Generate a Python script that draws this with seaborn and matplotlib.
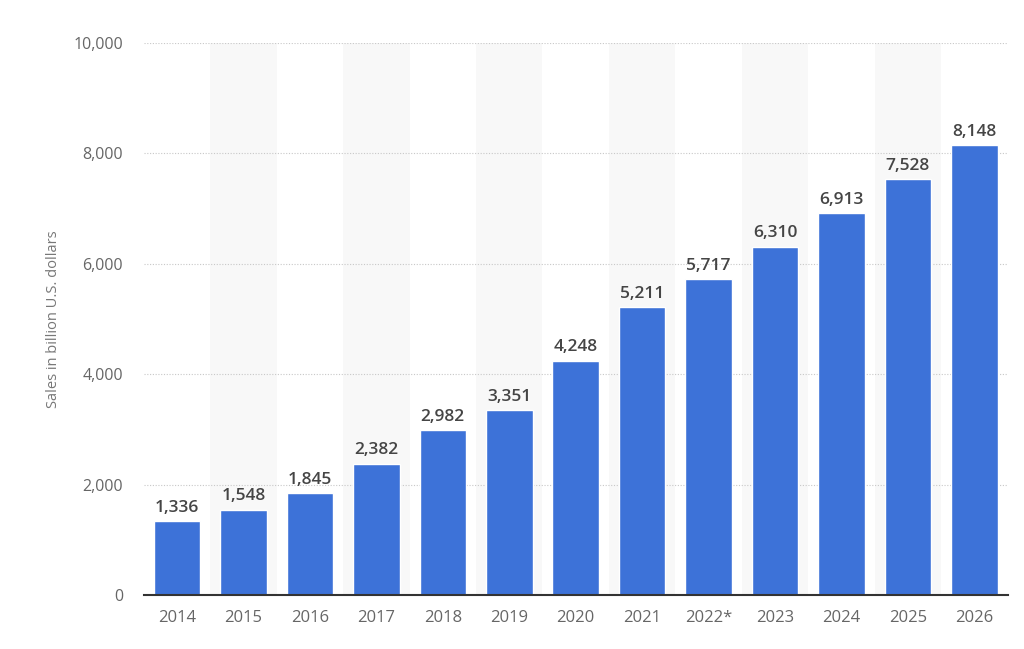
import matplotlib
matplotlib.use("Agg")
import matplotlib.pyplot as plt
import seaborn as sns
import pandas as pd
from matplotlib.ticker import FuncFormatter

years = ["2014", "2015", "2016", "2017", "2018", "2019", "2020", "2021", "2022*", "2023", "2024", "2025", "2026"]
sales = [1336, 1548, 1845, 2382, 2982, 3351, 4248, 5211, 5717, 6310, 6913, 7528, 8148]
y_ticks = [0, 2000, 4000, 6000, 8000, 10000]

sns.set_theme(style="white")
plt.rcParams['font.family'] = ['Open Sans', 'DejaVu Sans']

df = pd.DataFrame({"year": years, "sales": sales})

fig = plt.figure(figsize=(10.24, 6.49), dpi=100)
ax = fig.add_axes([0.1404, 0.083, 0.8436, 0.851])

for i in range(len(years)):
    if i % 2 == 1:
        ax.axvspan(i - 0.5, i + 0.5, color="#f8f8f8", zorder=0, lw=0)

sns.barplot(data=df, x="year", y="sales", color="#3d72d8", width=0.7, saturation=1, ax=ax, zorder=3)

for i, v in enumerate(sales):
    ax.annotate(f"{v:,}", xy=(i, v), xytext=(0, 4), textcoords="offset points",
                ha="center", va="bottom", fontsize=12.5, fontweight="semibold",
                color="#454545", zorder=4)

ax.set_ylim(0, 10000)
ax.set_xlim(-0.5, len(years) - 0.5)
ax.set_yticks(y_ticks)
ax.yaxis.set_major_formatter(FuncFormatter(lambda v, p: f"{int(v):,}"))
ax.grid(axis="y", linestyle=(0, (1, 1.5)), color="#c8c8c8", lw=0.8, zorder=1)
ax.set_axisbelow(True)
for s in ["top", "right", "left"]:
    ax.spines[s].set_visible(False)
ax.spines["bottom"].set_color("#333333")
ax.spines["bottom"].set_linewidth(1.5)
ax.spines["bottom"].set_zorder(5)
ax.tick_params(axis="both", length=0, colors="#666666")
ax.tick_params(axis="x", pad=10.5, labelsize=12)
ax.tick_params(axis="y", pad=15, labelsize=11.5)
ax.set_xlabel("")
ax.set_ylabel("Sales in billion U.S. dollars", fontsize=10.5, color="#777777", labelpad=9)

fig.savefig("out.png", dpi=100)
